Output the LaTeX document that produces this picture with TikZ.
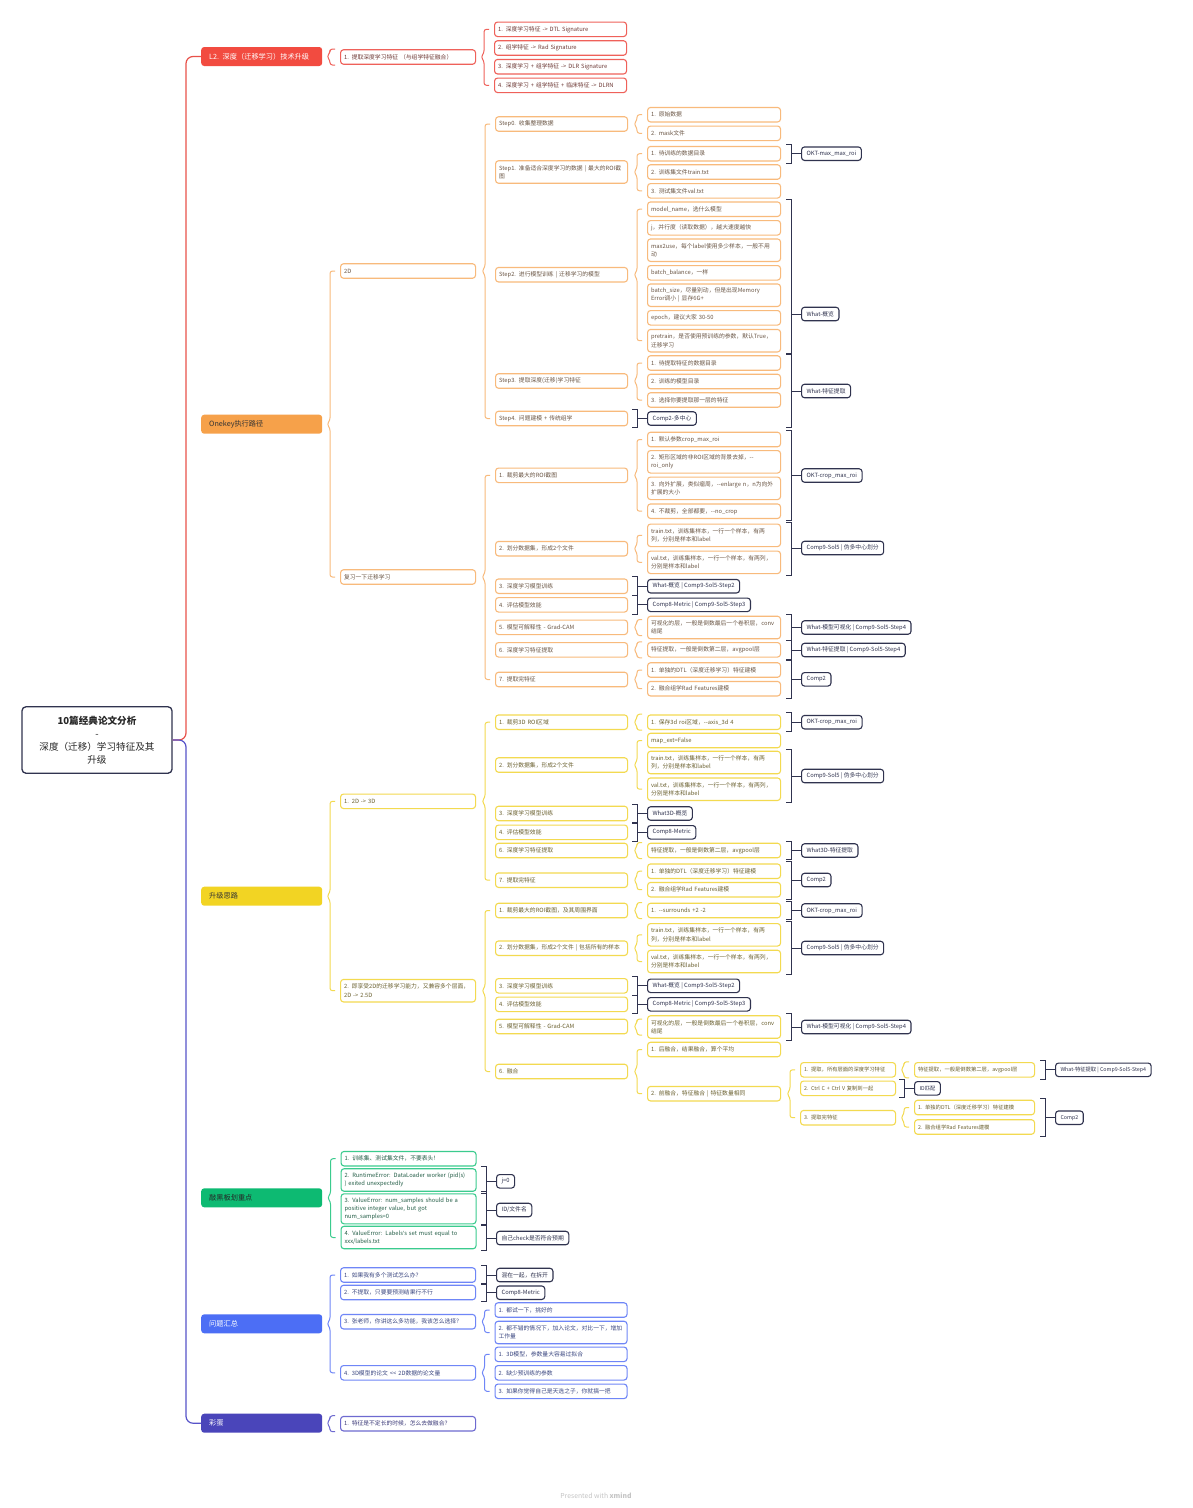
\documentclass[tikz,border=0pt]{standalone}
\usepackage{fontspec}
\setmainfont{Noto Sans CJK SC}
\newfontfamily\latinf{Noto Sans}
\usetikzlibrary{calc}
\definecolor{cRe}{HTML}{F24B40}\definecolor{cReL}{HTML}{EF615A}\definecolor{cReT}{HTML}{6E3A36}
\definecolor{cOr}{HTML}{F6A14A}\definecolor{cOrL}{HTML}{F8BA7C}\definecolor{cOrT}{HTML}{6A5544}
\definecolor{cYe}{HTML}{F2D423}\definecolor{cYeL}{HTML}{F3DA50}\definecolor{cYeT}{HTML}{6B6130}
\definecolor{cGr}{HTML}{0DBA72}\definecolor{cGrL}{HTML}{3BCB8E}\definecolor{cGrT}{HTML}{245E47}
\definecolor{cBu}{HTML}{4C6EF5}\definecolor{cBuL}{HTML}{6F86F7}\definecolor{cBuT}{HTML}{3A4680}
\definecolor{cPu}{HTML}{4A45BA}\definecolor{cPuL}{HTML}{6E6AD0}\definecolor{cPuT}{HTML}{3E3C7A}
\definecolor{cDk}{HTML}{30334F}\definecolor{cMainR}{HTML}{E8524A}\definecolor{cMainB}{HTML}{5753C9}
\definecolor{cFoot}{HTML}{C4C4C4}
\newcommand\fsA{\fontsize{5.8}{8.3}\selectfont}
\newcommand\fsB{\fontsize{5.3}{7.6}\selectfont}
\newcommand\fsM{\fontsize{7.2}{9}\selectfont}
\newcommand\fsR{\fontsize{9.6}{13}\selectfont}
\newcommand\brc[4]{\draw[#4,line width=1pt,rounded corners=2.5pt] let \p1=(#1.east),\p2=(#2.west),\p3=(#3.west) in (\x2-5pt,\y2) -- (\x2-10pt,\y2) -- (\x2-10pt,\y1+4pt) -- (\x2-13pt,\y1) -- (\x2-10pt,\y1-4pt) -- (\x2-10pt,\y3) -- (\x2-5pt,\y3);}
\newcommand\brcone[3]{\draw[#3,line width=1pt,rounded corners=2.5pt] let \p1=(#1.east),\p2=(#2.west) in (\x2-5pt,\y2+8pt) -- (\x2-10pt,\y2+8pt) -- (\x2-10pt,\y1+4pt) -- (\x2-13pt,\y1) -- (\x2-10pt,\y1-4pt) -- (\x2-10pt,\y2-8pt) -- (\x2-5pt,\y2-8pt);}
\newcommand\smb[3]{\draw[cDk,line width=1pt] let \p1=(#1.north),\p2=(#2.south),\p3=(#3.west) in (\x3-15pt,\y1+1.5pt) -- (\x3-10pt,\y1+1.5pt) -- (\x3-10pt,\y2-1.5pt) -- (\x3-15pt,\y2-1.5pt) (\x3-10pt,\y3) -- (#3.west);}
\begin{document}
\begin{tikzpicture}[x=1pt,y=-1pt,
 box/.style={draw,rounded corners=3pt,line width=1.1pt,anchor=west,align=left,inner xsep=3.5pt,inner ysep=1pt,minimum height=14.5pt,font=\fsA,fill=white},
 l2/.style={box,text width=128pt},
 l3/.style={box,text width=125pt},
 l4/.style={box,text width=126pt},
 l5/.style={box,text width=88pt,font=\fsB},
 l6/.style={box,text width=113pt,font=\fsB},
 h2/.style={minimum height=22.5pt},
 h3/.style={minimum height=30pt},
 re/.style={draw=cReL,text=cReT},
 or/.style={draw=cOrL,text=cOrT},
 ye/.style={draw=cYeL,text=cYeT},
 gr/.style={draw=cGrL,text=cGrT},
 bu/.style={draw=cBuL,text=cBuT},
 pu/.style={draw=cPuL,text=cPuT},
 sm/.style={draw=cDk,text=cDk,rounded corners=3pt,line width=1.1pt,anchor=west,inner xsep=5pt,inner ysep=1pt,minimum height=13.5pt,font=\fsA,fill=white},
 mt/.style={rounded corners=3pt,anchor=west,minimum width=121pt,minimum height=19pt,text width=109pt,inner xsep=6pt,align=left,font=\fsM}]
\useasboundingbox[fill=white] (0,0) rectangle (1192,1508);

% root
\node[draw=cDk,line width=1.3pt,rounded corners=4pt,fill=white,minimum width=150pt,minimum height=66.5pt,text width=140pt,align=center,font=\fsR,text=black!85] (root) at (97,740) {{\bfseries 10篇经典论文分析}\\-\\深度（迁移）学习特征及其\\升级};

% main topics
\node[mt,fill=cRe,text=white] (L2) at (201,56.5) {\hspace*{2pt}L2. 深度（迁移学习）技术升级};
\node[mt,fill=cOr,text=black!80] (onek) at (201,424.2) {\hspace*{2pt}Onekey执行路径};
\node[mt,fill=cYe,text=black!80] (up) at (201,896.2) {\hspace*{2pt}升级思路};
\node[mt,fill=cGr,text=black!85] (kb) at (201,1197.8) {\hspace*{2pt}敲黑板划重点};
\node[mt,fill=cBu,text=white] (qa) at (201,1323.8) {\hspace*{2pt}问题汇总};
\node[mt,fill=cPu,text=white] (egg) at (201,1423.2) {\hspace*{2pt}彩蛋};

\draw[cMainR,line width=1.2pt,rounded corners=7pt] (root.east) -| ([xshift=-15pt]L2.west) -- (L2.west);
\draw[cMainB,line width=1.2pt,rounded corners=7pt] (root.east) -| ([xshift=-15pt]egg.west) -- (egg.west);

% ---------- L2 ----------
\node[l2,re] (L2a) at (340,57) {1. 提取深度学习特征 （与组学特征融合）};
\node[l3,re] (L2a1) at (494,29.3) {1. 深度学习特征 -{}> DTL Signature};
\node[l3,re] (L2a2) at (494,48) {2. 组学特征 -{}> Rad Signature};
\node[l3,re] (L2a3) at (494,66.7) {3. 深度学习 + 组学特征 -{}> DLR Signature};
\node[l3,re] (L2a4) at (494,85.3) {4. 深度学习 + 组学特征 + 临床特征 -{}> DLRN};
\brcone{L2}{L2a}{cReL}
\brc{L2a}{L2a1}{L2a4}{cReL}

% ---------- Onekey ----------
\node[l2,or] (d2) at (340,271) {2D};
\node[l2,or] (rev) at (340,577) {复习一下迁移学习};
\brc{onek}{d2}{rev}{cOrL}

\node[l3,or] (s0) at (495,124) {Step0. 收集整理数据};
\node[l3,or,h2] (s1) at (495,172) {Step1. 准备适合深度学习的数据 | 最大的ROI截\\图};
\node[l3,or] (s2) at (495,274.7) {Step2. 进行模型训练 | 迁移学习的模型};
\node[l3,or] (s3) at (495,381) {Step3. 提取深度(迁移)学习特征};
\node[l3,or] (s4) at (495,418.5) {Step4. 问题建模 + 传统组学};
\brc{d2}{s0}{s4}{cOrL}

\node[l4,or] (s0a) at (647,114.7) {1. 原始数据};
\node[l4,or] (s0b) at (647,133.3) {2. mask文件};
\node[l4,or] (s1a) at (647,153.7) {1. 待训练的数据目录};
\node[l4,or] (s1b) at (647,172) {2. 训练集文件train.txt};
\node[l4,or] (s1c) at (647,190.8) {3. 测试集文件val.txt};
\node[l4,or] (s2a) at (647,209.2) {model\_name，选什么模型};
\node[l4,or] (s2b) at (647,227.8) {j，并行度（读取数据），越大速度越快};
\node[l4,or,h2] (s2c) at (647,250.2) {max2use，每个label使用多少样本，一般不用\\动};
\node[l4,or] (s2d) at (647,272.8) {batch\_balance，一样};
\node[l4,or,h2] (s2e) at (647,295.2) {batch\_size，尽量别动，但是出现Memory\\Error调小 | 显存6G+};
\node[l4,or] (s2f) at (647,317.8) {epoch，建议大家 30-50};
\node[l4,or,h2] (s2g) at (647,340.7) {pretrain，是否使用预训练的参数，默认True，\\迁移学习};
\node[l4,or] (s3a) at (647,363) {1. 待提取特征的数据目录};
\node[l4,or] (s3b) at (647,381.5) {2. 训练的模型目录};
\node[l4,or] (s3c) at (647,400) {3. 选择你要提取那一层的特征};
\node[sm] (s4a) at (647,418.5) {Comp2-多中心};
\brc{s0}{s0a}{s0b}{cOrL}
\brc{s1}{s1a}{s1c}{cOrL}
\brc{s2}{s2a}{s2g}{cOrL}
\brc{s3}{s3a}{s3c}{cOrL}
\smb{s4}{s4}{s4a}

\node[sm] (okt1) at (801,153.7) {OKT-max\_max\_roi};
\node[sm] (what1) at (801,314) {What-概览};
\node[sm] (what2) at (801,391) {What-特征提取};
\smb{s1a}{s1a}{okt1}
\smb{s2a}{s2g}{what1}
\smb{s3a}{s4}{what2}

\node[l3,or] (r1) at (495,475.3) {1. 裁剪最大的ROI截图};
\node[l3,or] (r2) at (495,548.7) {2. 划分数据集，形成2个文件};
\node[l3,or] (r3) at (495,586.2) {3. 深度学习模型训练};
\node[l3,or] (r4) at (495,604.8) {4. 评估模型效能};
\node[l3,or] (r5) at (495,627.3) {5. 模型可解释性 - Grad-CAM};
\node[l3,or] (r6) at (495,649.8) {6. 深度学习特征提取};
\node[l3,or] (r7) at (495,679.5) {7. 提取完特征};
\brc{rev}{r1}{r7}{cOrL}

\node[l4,or] (r1a) at (647,439.5) {1. 默认参数crop\_max\_roi};
\node[l4,or,h2] (r1b) at (647,461.8) {2. 矩形区域的非ROI区域的背景去掉，-{}-\\roi\_only};
\node[l4,or,h2] (r1c) at (647,488.3) {3. 向外扩展，类似瘤周，-{}-enlarge n，n为向外\\扩展的大小};
\node[l4,or] (r1d) at (647,511.2) {4. 不裁剪，全部都要，-{}-no\_crop};
\node[l4,or,h2] (r2a) at (647,535.3) {train.txt，训练集样本，一行一个样本，有两\\列，分别是样本和label};
\node[l4,or,h2] (r2b) at (647,562.3) {val.txt，训练集样本，一行一个样本，有两列，\\分别是样本和label};
\node[sm] (r3s) at (647,586.2) {What-概览 | Comp9-Sol5-Step2};
\node[sm] (r4s) at (647,604.8) {Comp8-Metric | Comp9-Sol5-Step3};
\node[l4,or,h2] (r5a) at (647,627.5) {可视化的层，一般是倒数最后一个卷积层，conv\\结尾};
\node[l4,or] (r6a) at (647,649.8) {特征提取，一般是倒数第二层，avgpool层};
\node[l4,or] (r7a) at (647,670) {1. 单独的DTL（深度迁移学习）特征建模};
\node[l4,or] (r7b) at (647,688.7) {2. 融合组学Rad Features建模};
\brc{r1}{r1a}{r1d}{cOrL}
\brc{r2}{r2a}{r2b}{cOrL}
\smb{r3}{r3}{r3s}
\smb{r4}{r4}{r4s}
\brcone{r5}{r5a}{cOrL}
\brcone{r6}{r6a}{cOrL}
\brc{r7}{r7a}{r7b}{cOrL}

\node[sm] (r1s) at (801,475.5) {OKT-crop\_max\_roi};
\node[sm] (r2s) at (801,548) {Comp9-Sol5 | 伪多中心划分};
\node[sm] (r5s) at (801,627.5) {What-模型可视化 | Comp9-Sol5-Step4};
\node[sm] (r6s) at (801,650) {What-特征提取 | Comp9-Sol5-Step4};
\node[sm] (r7s) at (801,679.3) {Comp2};
\smb{r1a}{r1d}{r1s}
\smb{r2a}{r2b}{r2s}
\smb{r5a}{r5a}{r5s}
\smb{r6a}{r6a}{r6s}
\smb{r7a}{r7b}{r7s}

% ---------- upgrade ----------
\node[l2,ye] (u1) at (340,801.3) {1. 2D -{}> 3D};
\node[l2,ye,h2] (u2) at (340,990.7) {2. 即享受2D的迁移学习能力，又兼容多个层面，\\2D -{}> 2.5D};
\brc{up}{u1}{u2}{cYeL}

\node[l3,ye] (u1a) at (495,722.2) {1. 裁剪3D ROI区域};
\node[l3,ye] (u1b) at (495,765) {2. 划分数据集，形成2个文件};
\node[l3,ye] (u1c) at (495,813.5) {3. 深度学习模型训练};
\node[l3,ye] (u1d) at (495,832.3) {4. 评估模型效能};
\node[l3,ye] (u1e) at (495,850.5) {6. 深度学习特征提取};
\node[l3,ye] (u1f) at (495,880.2) {7. 提取完特征};
\brc{u1}{u1a}{u1f}{cYeL}

\node[l4,ye] (u1a1) at (647,722.2) {1. 保存3d roi区域，-{}-axis\_3d 4};
\node[l4,ye] (u1b1) at (647,740.5) {map\_ext=False};
\node[l4,ye,h2] (u1b2) at (647,762.5) {train.txt，训练集样本，一行一个样本，有两\\列，分别是样本和label};
\node[l4,ye,h2] (u1b3) at (647,789.2) {val.txt，训练集样本，一行一个样本，有两列，\\分别是样本和label};
\node[sm] (u1cs) at (647,813.5) {What3D-概览};
\node[sm] (u1ds) at (647,832.3) {Comp8-Metric};
\node[l4,ye] (u1e1) at (647,850.5) {特征提取，一般是倒数第二层，avgpool层};
\node[l4,ye] (u1f1) at (647,871.2) {1. 单独的DTL（深度迁移学习）特征建模};
\node[l4,ye] (u1f2) at (647,889.7) {2. 融合组学Rad Features建模};
\brcone{u1a}{u1a1}{cYeL}
\brc{u1b}{u1b1}{u1b3}{cYeL}
\smb{u1c}{u1c}{u1cs}
\smb{u1d}{u1d}{u1ds}
\brcone{u1e}{u1e1}{cYeL}
\brc{u1f}{u1f1}{u1f2}{cYeL}

\node[sm] (u1as) at (801,722.2) {OKT-crop\_max\_roi};
\node[sm] (u1bs) at (801,776) {Comp9-Sol5 | 伪多中心划分};
\node[sm] (u1es) at (801,850.5) {What3D-特征提取};
\node[sm] (u1fs) at (801,880) {Comp2};
\smb{u1a1}{u1a1}{u1as}
\smb{u1b2}{u1b3}{u1bs}
\smb{u1e1}{u1e1}{u1es}
\smb{u1f1}{u1f2}{u1fs}

\node[l3,ye] (u2a) at (495,910.5) {1. 裁剪最大的ROI截图，及其周围界面};
\node[l3,ye] (u2b) at (495,948.2) {2. 划分数据集，形成2个文件 | 包括所有的样本};
\node[l3,ye] (u2c) at (495,985.8) {3. 深度学习模型训练};
\node[l3,ye] (u2d) at (495,1004.3) {4. 评估模型效能};
\node[l3,ye] (u2e) at (495,1026.5) {5. 模型可解释性 - Grad-CAM};
\node[l3,ye] (u2f) at (495,1071.5) {6. 融合};
\brc{u2}{u2a}{u2f}{cYeL}

\node[l4,ye] (u2a1) at (647,910.5) {1. -{}-surrounds +2 -2};
\node[l4,ye,h2] (u2b1) at (647,934.8) {train.txt，训练集样本，一行一个样本，有两\\列，分别是样本和label};
\node[l4,ye,h2] (u2b2) at (647,961.5) {val.txt，训练集样本，一行一个样本，有两列，\\分别是样本和label};
\node[sm] (u2cs) at (647,985.8) {What-概览 | Comp9-Sol5-Step2};
\node[sm] (u2ds) at (647,1004.3) {Comp8-Metric | Comp9-Sol5-Step3};
\node[l4,ye,h2] (u2e1) at (647,1027) {可视化的层，一般是倒数最后一个卷积层，conv\\结尾};
\node[l4,ye] (u2f1) at (647,1049.5) {1. 后融合，结果融合，算个平均};
\node[l4,ye] (u2f2) at (647,1093.7) {2. 前融合，特征融合 | 特征数量相同};
\brcone{u2a}{u2a1}{cYeL}
\brc{u2b}{u2b1}{u2b2}{cYeL}
\smb{u2c}{u2c}{u2cs}
\smb{u2d}{u2d}{u2ds}
\brcone{u2e}{u2e1}{cYeL}
\brc{u2f}{u2f1}{u2f2}{cYeL}

\node[sm] (u2as) at (801,910.5) {OKT-crop\_max\_roi};
\node[sm] (u2bs) at (801,948) {Comp9-Sol5 | 伪多中心划分};
\node[sm] (u2es) at (801,1027) {What-模型可视化 | Comp9-Sol5-Step4};
\smb{u2a1}{u2a1}{u2as}
\smb{u2b1}{u2b2}{u2bs}
\smb{u2e1}{u2e1}{u2es}

\node[l5,ye] (g1) at (800,1069.8) {1. 提取，所有层面的深度学习特征};
\node[l5,ye] (g2) at (800,1088.3) {2. Ctrl C + Ctrl V 复制到一起};
\node[l5,ye] (g3) at (800,1117.7) {3. 提取完特征};
\brc{u2f2}{g1}{g3}{cYeL}
\node[l6,ye] (g1a) at (914,1069.8) {特征提取，一般是倒数第二层，avgpool层};
\node[sm,font=\fsB] (g2s) at (914,1088.3) {ID匹配};
\node[l6,ye] (g3a) at (914,1107.5) {1. 单独的DTL（深度迁移学习）特征建模};
\node[l6,ye] (g3b) at (914,1127) {2. 融合组学Rad Features建模};
\brcone{g1}{g1a}{cYeL}
\smb{g2}{g2}{g2s}
\brc{g3}{g3a}{g3b}{cYeL}
\node[sm,font=\fsB] (g1s) at (1055,1069.8) {What-特征提取 | Comp9-Sol5-Step4};
\node[sm,font=\fsB] (g3s) at (1055,1117.7) {Comp2};
\smb{g1a}{g1a}{g1s}
\smb{g3a}{g3b}{g3s}

% ---------- key points ----------
\node[l2,gr] (k1) at (340.5,1158.7) {1. 训练集、测试集文件，不要表头！};
\node[l2,gr,h2] (k2) at (340.5,1180) {2. RuntimeError: DataLoader worker (pid(s)\\) exited unexpectedly};
\node[l2,gr,h3] (k3) at (340.5,1208.8) {3. ValueError: num\_samples should be a\\positive integer value, but got\\num\_samples=0};
\node[l2,gr,h2] (k4) at (340.5,1237.5) {4. ValueError: Labels{\latinf\char39}s set must equal to\\xxx/labels.txt};
\brc{kb}{k1}{k4}{cGrL}
\node[sm] (k2s) at (496,1181.3) {j=0};
\node[sm] (k3s) at (496,1210) {ID/文件名};
\node[sm] (k4s) at (496,1238) {自己check是否符合预期};
\smb{k2}{k2}{k2s}
\smb{k3}{k3}{k3s}
\smb{k4}{k4}{k4s}

% ---------- questions ----------
\node[l2,bu] (q1) at (340,1275) {1. 如果我有多个测试怎么办？};
\node[l2,bu] (q2) at (340,1292.5) {2. 不提取，只要要预测结果行不行};
\node[l2,bu] (q3) at (340,1321.7) {3. 张老师，你讲这么多功能，我该怎么选择？};
\node[l2,bu] (q4) at (340,1372.8) {4. 3D模型的论文 <{}< 2D数据的论文量};
\brc{qa}{q1}{q4}{cBuL}
\node[sm] (q1s) at (496,1275) {混在一起，在拆开};
\node[sm] (q2s) at (496,1292.7) {Comp8-Metric};
\smb{q1}{q1}{q1s}
\smb{q2}{q2}{q2s}
\node[l3,bu] (q3a) at (494.5,1310) {1. 都试一下，挑好的};
\node[l3,bu,h2] (q3b) at (494.5,1332.5) {2. 都不错的情况下，加入论文，对比一下，增加\\工作量};
\node[l3,bu] (q4a) at (494.5,1354.3) {1. 3D模型，参数量大容易过拟合};
\node[l3,bu] (q4b) at (494.5,1372.8) {2. 缺少预训练的参数};
\node[l3,bu] (q4c) at (494.5,1391.3) {3. 如果你觉得自己是天选之子，你就搞一把};
\brc{q3}{q3a}{q3b}{cBuL}
\brc{q4}{q4a}{q4c}{cBuL}

% ---------- egg ----------
\node[l2,pu] (e1) at (340,1423.7) {1. 特征是不定长的时候，怎么去做融合？};
\brcone{egg}{e1}{cPuL}

\node[text=cFoot,font=\fontsize{6.8}{8}\selectfont] (ft) at (596,1496) {Presented with \textbf{xmind}};
\end{tikzpicture}
\end{document}
